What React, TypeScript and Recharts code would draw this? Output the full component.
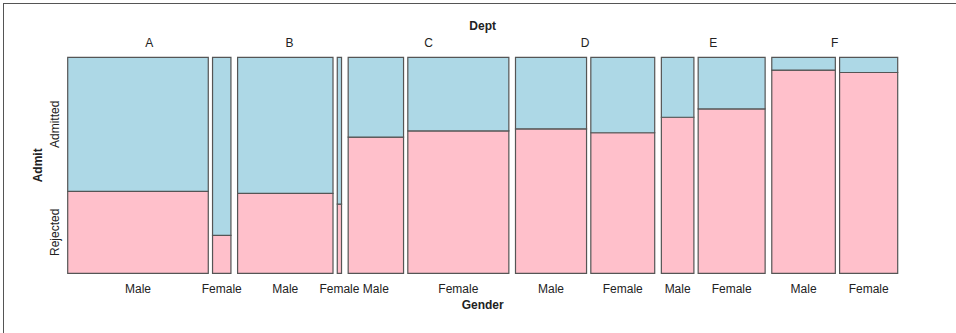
import { ComposedChart, XAxis, YAxis, ReferenceArea, Label } from 'recharts';

const depts = ['A', 'B', 'C', 'D', 'E', 'F'];
const genders = ['Male', 'Female'];
const admitLevels = ['Admitted', 'Rejected'];
// UCB admissions counts per department
const admittedMale = [512, 353, 120, 138, 53, 22];
const rejectedMale = [313, 207, 205, 279, 138, 351];
const admittedFemale = [89, 17, 202, 131, 94, 24];
const rejectedFemale = [19, 8, 391, 244, 299, 317];

// spacing between tiles, in count units
const GENDER_GAP = 25;
const DEPT_GAP = 39;

const BLUE = '#add8e6';
const PINK = '#ffc0cb';
const EDGE = '#555555';
const TEXT = '#222222';
const FONT = '"Liberation Sans", Arial, Helvetica, sans-serif';

type Tile = { dept: string; gender: string; x1: number; x2: number; rejShare: number };

const tiles: Tile[] = [];
const deptSpans: { start: number; end: number }[] = [];
let cursor = 0;
depts.forEach((d, i) => {
  if (i > 0) cursor += DEPT_GAP;
  const start = cursor;
  genders.forEach((g, j) => {
    if (j > 0) cursor += GENDER_GAP;
    const adm = g === 'Male' ? admittedMale[i] : admittedFemale[i];
    const rej = g === 'Male' ? rejectedMale[i] : rejectedFemale[i];
    const total = adm + rej;
    tiles.push({ dept: d, gender: g, x1: cursor, x2: cursor + total, rejShare: rej / total });
    cursor += total;
  });
  deptSpans.push({ start, end: cursor });
});
const xMax = cursor;
const deptCenters = deptSpans.map((s) => (s.start + s.end) / 2);
const genderTicks = tiles.map((t) => (t.x1 + t.x2) / 2);
const firstRej = tiles[0].rejShare;
const admitTicks = [(firstRej + 1) / 2, firstRej / 2];

const GenderTick = (props: any) => {
  const idx = genderTicks.findIndex((v) => Math.abs(v - props.payload.value) < 1e-6);
  return (
    <text x={props.x} y={props.y + 19.7} textAnchor="middle" fontSize={12} fill={TEXT} fontFamily={FONT}>
      {tiles[idx]?.gender}
    </text>
  );
};

const DeptTick = (props: any) => {
  const idx = deptCenters.findIndex((v) => Math.abs(v - props.payload.value) < 1e-6);
  return (
    <text x={props.x} y={props.y - 10.6} textAnchor="middle" fontSize={12} fill={TEXT} fontFamily={FONT}>
      {depts[idx]}
    </text>
  );
};

const AdmitTick = (props: any) => {
  const idx = admitTicks.findIndex((v) => Math.abs(v - props.payload.value) < 1e-6);
  const bx = props.x - 9.2;
  return (
    <text
      transform={`translate(${bx},${props.y}) rotate(-90)`}
      textAnchor="middle"
      fontSize={12}
      fill={TEXT}
      fontFamily={FONT}
    >
      {admitLevels[idx]}
    </text>
  );
};

const App = () => {
  return (
    <div style={{ position: 'absolute', left: 0, top: 0, width: 956, height: 333, overflow: 'hidden', background: '#fff' }}>
      <div
        style={{
          position: 'absolute',
          left: 3,
          top: 3,
          width: 980,
          height: 360,
          border: '1px solid #555',
          boxSizing: 'border-box',
        }}
      />
      <div style={{ position: 'absolute', left: 0, top: 0 }}>
        <ComposedChart width={956} height={333} margin={{ top: 17.3, right: 58.3, bottom: 19.7, left: 17.7 }}>
          <XAxis
            type="number"
            dataKey="x"
            domain={[0, xMax]}
            allowDataOverflow
            ticks={genderTicks}
            interval={0}
            tick={<GenderTick />}
            tickLine={false}
            axisLine={false}
            tickSize={0}
            tickMargin={0}
            height={40}
          >
            <Label
              content={(p: any) => (
                <text
                  x={p.viewBox.x + p.viewBox.width / 2}
                  y={p.viewBox.y + 35.2}
                  textAnchor="middle"
                  fontSize={12}
                  fontWeight="bold"
                  fill={TEXT}
                  fontFamily={FONT}
                >
                  Gender
                </text>
              )}
            />
          </XAxis>
          <XAxis
            xAxisId="top"
            orientation="top"
            type="number"
            dataKey="x"
            domain={[0, xMax]}
            allowDataOverflow
            ticks={deptCenters}
            interval={0}
            tick={<DeptTick />}
            tickLine={false}
            axisLine={false}
            tickSize={0}
            tickMargin={0}
            height={40}
          >
            <Label
              content={(p: any) => (
                <text
                  x={p.viewBox.x + p.viewBox.width / 2}
                  y={p.viewBox.y + p.viewBox.height - 27.3}
                  textAnchor="middle"
                  fontSize={12}
                  fontWeight="bold"
                  fill={TEXT}
                  fontFamily={FONT}
                >
                  Dept
                </text>
              )}
            />
          </XAxis>
          <YAxis
            type="number"
            domain={[0, 1]}
            allowDataOverflow
            ticks={admitTicks}
            interval={0}
            tick={<AdmitTick />}
            tickLine={false}
            axisLine={false}
            tickSize={0}
            tickMargin={0}
            width={50}
          >
            <Label
              content={(p: any) => {
                const bx = p.viewBox.x + p.viewBox.width - 25.7;
                const cy = p.viewBox.y + p.viewBox.height / 2;
                return (
                  <text
                    transform={`translate(${bx},${cy}) rotate(-90)`}
                    textAnchor="middle"
                    fontSize={12}
                    fontWeight="bold"
                    fill={TEXT}
                    fontFamily={FONT}
                  >
                    Admit
                  </text>
                );
              }}
            />
          </YAxis>
          {deptSpans.map((s, i) => (
            <ReferenceArea
              key={`dept-${depts[i]}`}
              xAxisId="top"
              x1={s.start}
              x2={s.end}
              y1={0}
              y2={1}
              fill="none"
              fillOpacity={0}
              stroke="none"
              ifOverflow="visible"
            />
          ))}
          {tiles.map((t) => (
            <ReferenceArea
              key={`${t.dept}-${t.gender}-rej`}
              x1={t.x1}
              x2={t.x2}
              y1={0}
              y2={t.rejShare}
              fill={PINK}
              fillOpacity={1}
              stroke={EDGE}
              strokeWidth={1.2}
              ifOverflow="visible"
            />
          ))}
          {tiles.map((t) => (
            <ReferenceArea
              key={`${t.dept}-${t.gender}-adm`}
              x1={t.x1}
              x2={t.x2}
              y1={t.rejShare}
              y2={1}
              fill={BLUE}
              fillOpacity={1}
              stroke={EDGE}
              strokeWidth={1.2}
              ifOverflow="visible"
            />
          ))}
        </ComposedChart>
      </div>
    </div>
  );
};

export default App;
